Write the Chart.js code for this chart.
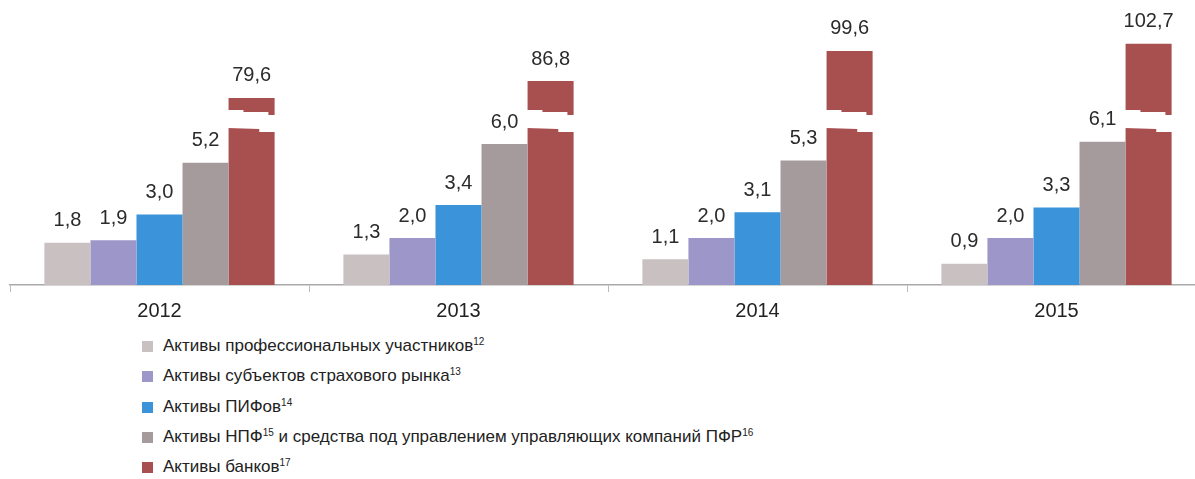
<!DOCTYPE html>
<html lang="ru">
<head>
<meta charset="UTF-8" />
<title>Активы финансовых организаций</title>
<script src="https://cdn.jsdelivr.net/npm/chart.js"></script>
<style>
  html, body { margin: 0; padding: 0; background: #fff; overflow: hidden; }
  .wrap { position: relative; width: 1206px; height: 330px; }
  .legend { position: absolute; left: 142px; top: 333px; margin: 0; padding: 0; list-style: none;
    font-family: 'Liberation Sans Narrow', 'Arial Narrow', 'Liberation Sans', sans-serif; font-size: 17px; color: #222; }
  .legend li { height: 30.3px; line-height: 26px; white-space: nowrap; }
  .legend i { display: inline-block; width: 11px; height: 11px; margin-right: 10px; vertical-align: -1px; }
  .legend sup { font-size: 10px; vertical-align: 6px; line-height: 0; }
</style>
</head>
<body>
<div class="wrap"><canvas id="myChart"></canvas></div>
<ul class="legend" id="legend"></ul>

<script>
const years = ['2012', '2013', '2014', '2015'];
const seriesNames = [
  'Активы профессиональных участников<sup>12</sup>',
  'Активы субъектов страхового рынка<sup>13</sup>',
  'Активы ПИФов<sup>14</sup>',
  'Активы НПФ<sup>15</sup> и средства под управлением управляющих компаний ПФР<sup>16</sup>',
  'Активы банков<sup>17</sup>'
];
const proff = [1.8, 1.3, 1.1, 0.9];
const insur = [1.9, 2.0, 2.0, 2.0];
const pif = [3.0, 3.4, 3.1, 3.3];
const npf = [5.2, 6.0, 5.3, 6.1];
const banks = [79.6, 86.8, 99.6, 102.7];
const colors = ['#c9c1c1', '#9c96c9', '#3b94d9', '#a59b9c', '#a84f50'];

// bank bars go through an axis break, so they are drawn at 1/10 of the scale
const bankScale = 10;
const breakFrom = 6.68, breakTo = 7.45;

const fmt = v => v.toFixed(1).replace('.', ',');
const font = "'Liberation Sans Narrow', 'Arial Narrow', 'Liberation Sans', sans-serif";

const labelsPlugin = {
  id: 'valueLabels',
  afterDatasetsDraw(chart) {
    const c = chart.ctx;
    const ys = chart.scales.y;
    // break in the bank bars
    const meta = chart.getDatasetMeta(4);
    meta.data.forEach(bar => {
      const l = bar.x - bar.width / 2 - 1, r = bar.x + bar.width / 2 + 1;
      const w = r - l;
      const t = ys.getPixelForValue(breakTo), b = ys.getPixelForValue(breakFrom);
      c.save();
      c.fillStyle = '#fff';
      c.beginPath();
      c.moveTo(l, t);
      c.lineTo(l + w * 0.33, t);
      c.lineTo(l + w * 0.33, t + 2);
      c.lineTo(l + w * 0.85, t + 2);
      c.lineTo(l + w * 0.85, t + 5);
      c.lineTo(r, t + 5);
      c.lineTo(r, b + 4);
      c.lineTo(l + w * 0.66, b + 4);
      c.lineTo(l + w * 0.66, b + 1);
      c.lineTo(l, b);
      c.closePath();
      c.fill();
      c.restore();
    });
    c.save();
    c.fillStyle = '#2b2b2b';
    c.font = '20px ' + font;
    c.textAlign = 'center';
    c.textBaseline = 'bottom';
    chart.data.datasets.forEach((ds, i) => {
      chart.getDatasetMeta(i).data.forEach((bar, j) => {
        c.fillText(fmt(ds.raw[j]), bar.x, bar.y - 12);
      });
    });
    c.restore();
  }
};

const series = [proff, insur, pif, npf, banks];
const datasets = series.map((arr, i) => ({
  label: seriesNames[i].replace(/<[^>]+>/g, ''),
  raw: arr,
  data: i === 4 ? arr.map(v => v / bankScale) : arr,
  backgroundColor: colors[i],
  borderWidth: 0
}));

new Chart(document.getElementById('myChart'), {
  type: 'bar',
  data: { labels: years, datasets: datasets },
  options: {
    responsive: true,
    maintainAspectRatio: false,
    animation: false,
    categoryPercentage: 0.77,
    barPercentage: 1.0,
    layout: { padding: { left: 10, right: 0, top: 3, bottom: 0 } },
    plugins: { legend: { display: false }, tooltip: { enabled: false } },
    scales: {
      y: { display: false, min: 0, max: 12 },
      x: {
        afterFit(s) { s.height = 45; },
        border: { display: true, color: '#a9a9a9', width: 1.5 },
        grid: { drawOnChartArea: false, color: '#bbb', tickLength: 7, offset: true },
        ticks: { color: '#222', padding: 7, font: { family: font, size: 20 } }
      }
    }
  },
  plugins: [labelsPlugin]
});

const legend = document.getElementById('legend');
seriesNames.forEach((name, i) => {
  const li = document.createElement('li');
  li.innerHTML = '<i style="background:' + colors[i] + '"></i>' + name;
  legend.appendChild(li);
});
</script>
</body>
</html>
